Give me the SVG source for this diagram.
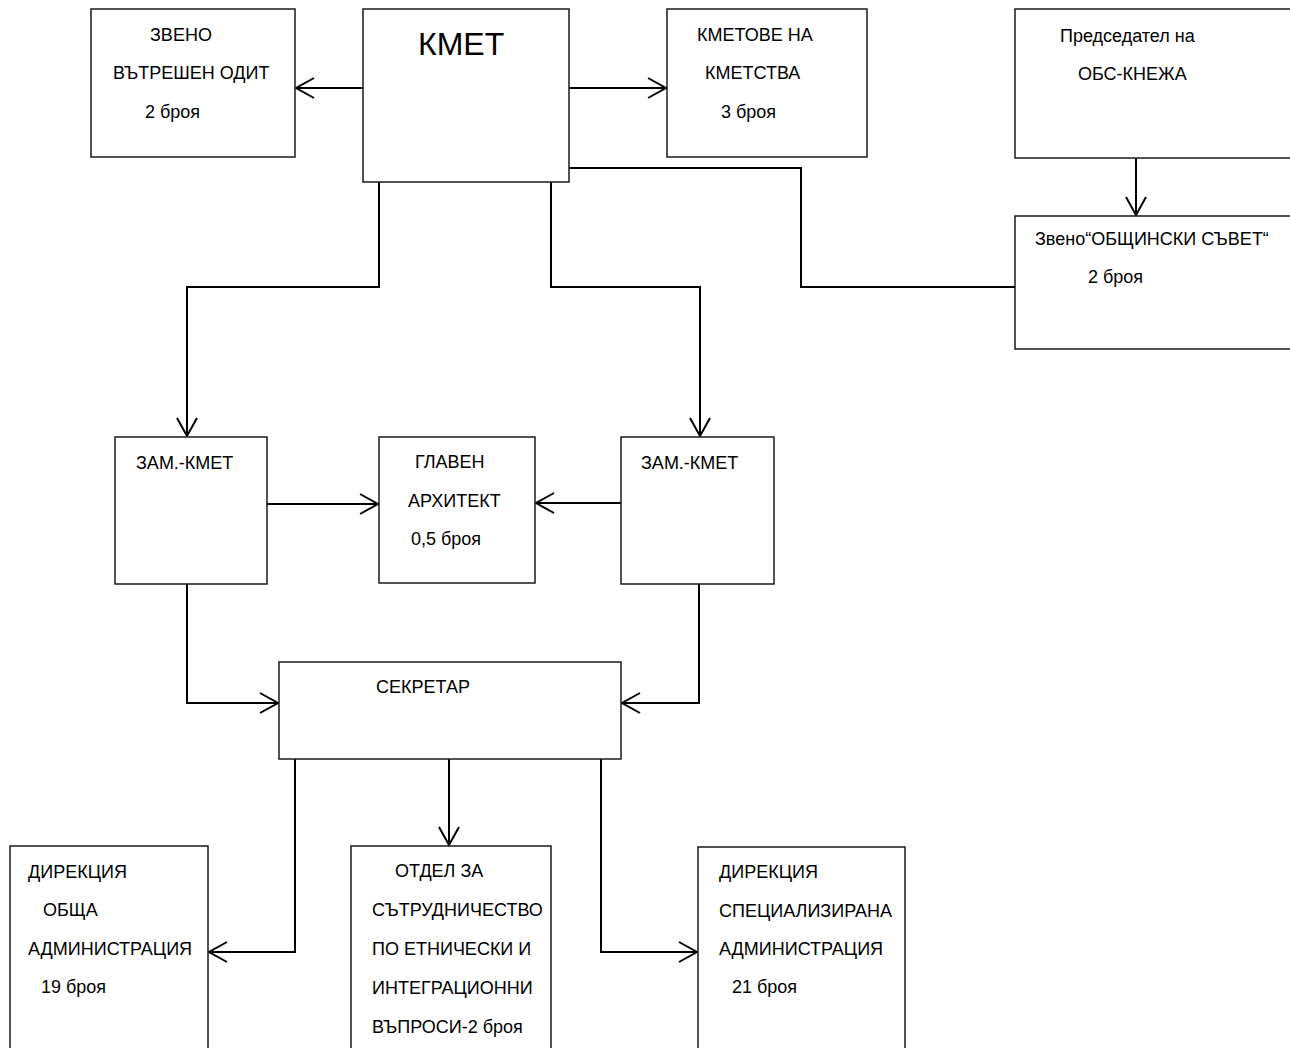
<svg xmlns="http://www.w3.org/2000/svg" width="1290" height="1048" viewBox="0 0 1290 1048">
<style>
  .box { fill: #ffffff; stroke: #1a1a1a; stroke-width: 1.5; }
  .t { font-family: "Liberation Sans", Arial, sans-serif; font-size: 18px; fill: #000000; }
  .big { font-size: 32px; }
  .c { fill: none; stroke: #000000; stroke-width: 2; }
</style>
<defs>
  <marker id="arr" viewBox="-1 -1 21 23" refX="18" refY="10" markerWidth="21" markerHeight="23" markerUnits="userSpaceOnUse" orient="auto" overflow="visible">
    <path d="M0,0 L18,10 L0,20" fill="none" stroke="#000000" stroke-width="2"/>
  </marker>
</defs>
<rect width="1290" height="1048" fill="#ffffff"/>

<g id="connectors">
  <path class="c" d="M363,88 L296,88" marker-end="url(#arr)"/>
  <path class="c" d="M569,88 L666,88" marker-end="url(#arr)"/>
  <path class="c" d="M569,168 L801,168 L801,287 L1015,287"/>
  <path class="c" d="M1136,158 L1136,215" marker-end="url(#arr)"/>
  <path class="c" d="M379,182 L379,287 L187,287 L187,436" marker-end="url(#arr)"/>
  <path class="c" d="M551,182 L551,287 L700,287 L700,436" marker-end="url(#arr)"/>
  <path class="c" d="M267,504 L378,504" marker-end="url(#arr)"/>
  <path class="c" d="M621,503 L536,503" marker-end="url(#arr)"/>
  <path class="c" d="M187,584 L187,703 L278,703" marker-end="url(#arr)"/>
  <path class="c" d="M699,584 L699,703 L622,703" marker-end="url(#arr)"/>
  <path class="c" d="M295,759 L295,952 L209,952" marker-end="url(#arr)"/>
  <path class="c" d="M449,759 L449,845" marker-end="url(#arr)"/>
  <path class="c" d="M601,759 L601,952 L697,952" marker-end="url(#arr)"/>
</g>

<g id="node-zveno-odit">
  <rect class="box" x="91" y="9" width="204" height="148"/>
  <text class="t" x="150" y="41">ЗВЕНО</text>
  <text class="t" x="113" y="79">ВЪТРЕШЕН ОДИТ</text>
  <text class="t" x="145" y="118">2 броя</text>
</g>

<g id="node-kmet">
  <rect class="box" x="363" y="9" width="206" height="173"/>
  <text class="t big" x="418" y="55">КМЕТ</text>
</g>

<g id="node-kmetove">
  <rect class="box" x="667" y="9" width="200" height="148"/>
  <text class="t" x="697" y="41">КМЕТОВЕ НА</text>
  <text class="t" x="705" y="79">КМЕТСТВА</text>
  <text class="t" x="721" y="118">3 броя</text>
</g>

<g id="node-predsedatel">
  <rect class="box" x="1015" y="9" width="285" height="149"/>
  <text class="t" x="1060" y="42">Председател на</text>
  <text class="t" x="1078" y="80">ОБС-КНЕЖА</text>
</g>

<g id="node-zveno-os">
  <rect class="box" x="1015" y="216" width="285" height="133"/>
  <text class="t" x="1035" y="245">Звено“ОБЩИНСКИ СЪВЕТ“</text>
  <text class="t" x="1088" y="283">2 броя</text>
</g>

<g id="node-zam-left">
  <rect class="box" x="115" y="437" width="152" height="147"/>
  <text class="t" x="136" y="469">ЗАМ.-КМЕТ</text>
</g>

<g id="node-arhitekt">
  <rect class="box" x="379" y="437" width="156" height="146"/>
  <text class="t" x="415" y="468">ГЛАВЕН</text>
  <text class="t" x="408" y="507">АРХИТЕКТ</text>
  <text class="t" x="411" y="545">0,5 броя</text>
</g>

<g id="node-zam-right">
  <rect class="box" x="621" y="437" width="153" height="147"/>
  <text class="t" x="641" y="469">ЗАМ.-КМЕТ</text>
</g>

<g id="node-sekretar">
  <rect class="box" x="279" y="662" width="342" height="97"/>
  <text class="t" x="376" y="693">СЕКРЕТАР</text>
</g>

<g id="node-obshta">
  <rect class="box" x="10" y="846" width="198" height="210"/>
  <text class="t" x="28" y="878">ДИРЕКЦИЯ</text>
  <text class="t" x="43" y="916">ОБЩА</text>
  <text class="t" x="28" y="955">АДМИНИСТРАЦИЯ</text>
  <text class="t" x="41" y="993">19 броя</text>
</g>

<g id="node-otdel">
  <rect class="box" x="351" y="846" width="200" height="210"/>
  <text class="t" x="395" y="877">ОТДЕЛ ЗА</text>
  <text class="t" x="372" y="916">СЪТРУДНИЧЕСТВО</text>
  <text class="t" x="372" y="955">ПО ЕТНИЧЕСКИ И</text>
  <text class="t" x="372" y="994">ИНТЕГРАЦИОННИ</text>
  <text class="t" x="372" y="1033">ВЪПРОСИ-2 броя</text>
</g>

<g id="node-spec">
  <rect class="box" x="698" y="847" width="207" height="210"/>
  <text class="t" x="719" y="878">ДИРЕКЦИЯ</text>
  <text class="t" x="719" y="917">СПЕЦИАЛИЗИРАНА</text>
  <text class="t" x="719" y="955">АДМИНИСТРАЦИЯ</text>
  <text class="t" x="732" y="993">21 броя</text>
</g>
</svg>
